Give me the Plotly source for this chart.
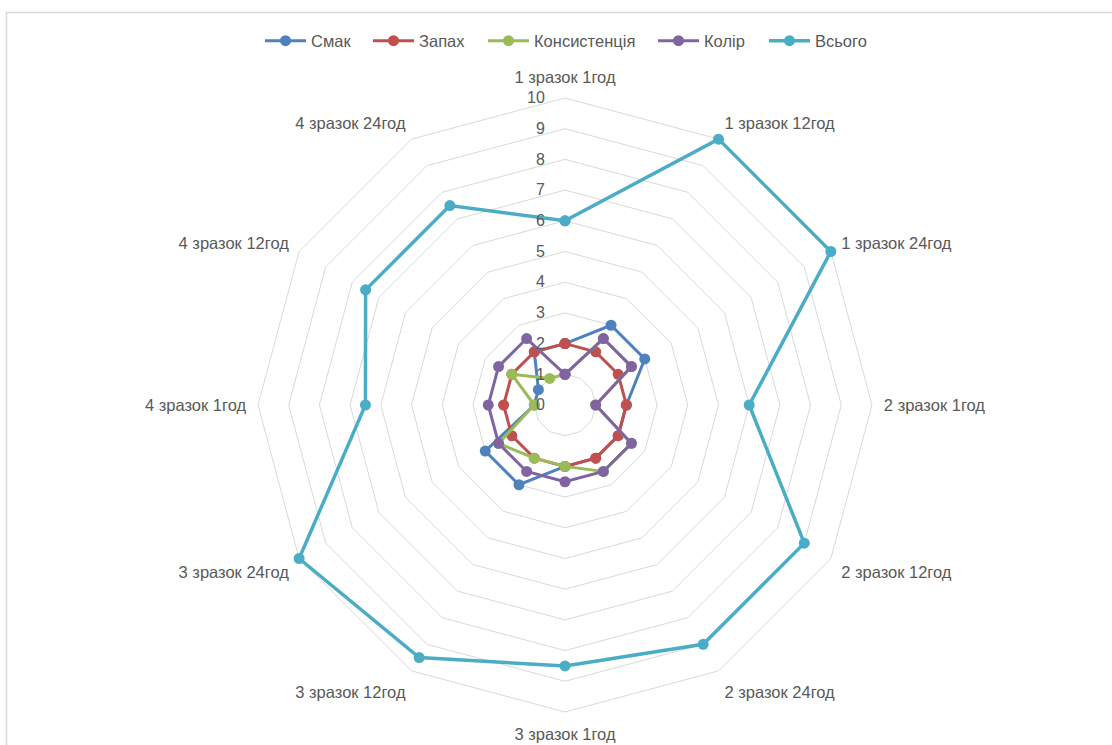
import plotly.graph_objects as go

categories = ["1 зразок 1год", "1 зразок 12год", "1 зразок 24год",
              "2 зразок 1год", "2 зразок 12год", "2 зразок 24год",
              "3 зразок 1год", "3 зразок 12год", "3 зразок 24год",
              "4 зразок 1год", "4 зразок 12год", "4 зразок 24год"]

smak = [2, 3, 3, 2, 2, 2, 2, 3, 3, 1, 1, 2]
zapakh = [2, 2, 2, 2, 2, 2, 2, 2, 2, 2, 2, 2]
konsystentsiia = [1, 2.5, 2.5, 1, 2.5, 2.5, 2, 2, 2.5, 1, 2, 1]
kolir = [1, 2.5, 2.5, 1, 2.5, 2.5, 2.5, 2.5, 2.5, 2.5, 2.5, 2.5]
vsogo = [6, 10, 10, 6, 9, 9, 8.5, 9.5, 10, 6.5, 7.5, 7.5]

series_names = ["Смак", "Запах", "Консистенція", "Колір", "Всього"]
series_values = [smak, zapakh, konsystentsiia, kolir, vsogo]
series_colors = ["#4F81BD", "#C0504D", "#9BBB59", "#8064A2", "#4BACC6"]
series_widths = [3, 3, 3, 3, 3.5]
legend_x_px = [260, 368, 483, 653, 764]   # left edge of each legend entry

FONT = "Liberation Sans, Arial, sans-serif"
GRAY = "#595959"
GRID = "#D9D9D9"
W, H = 1112, 745

fig = go.Figure()
legend_layouts = {}
for i, (name, vals, color, w) in enumerate(zip(series_names, series_values, series_colors, series_widths)):
    lg = "legend" if i == 0 else f"legend{i + 1}"
    fig.add_trace(go.Scatterpolar(
        r=vals + vals[:1],
        theta=categories + categories[:1],
        name=name,
        mode="lines+markers",
        line=dict(color=color, width=w),
        marker=dict(color=color, size=11),
        cliponaxis=False,
        legend=lg,
    ))
    legend_layouts[lg] = dict(
        orientation="h", x=legend_x_px[i] / W, xanchor="left",
        y=1 - 41 / H, yanchor="middle", bgcolor="rgba(0,0,0,0)",
        font=dict(family=FONT, size=16.5, color=GRAY), itemwidth=41,
    )

RMAX = 10.1
cx, cy, R10 = 565, 405, 307
R = R10 * RMAX / 10
fig.update_layout(
    width=W, height=H,
    margin=dict(l=0, r=0, t=0, b=0),
    paper_bgcolor="white",
    plot_bgcolor="white",
    font=dict(family=FONT, size=16.5, color=GRAY),
    showlegend=True,
    polar=dict(
        domain=dict(x=[(cx - R) / W, (cx + R) / W], y=[(H - cy - R) / H, (H - cy + R) / H]),
        bgcolor="white",
        gridshape="linear",
        radialaxis=dict(range=[0, RMAX], dtick=1, tick0=0, angle=90, tickangle=90,
                        side="counterclockwise",
                        showline=False, gridcolor=GRID, gridwidth=1,
                        ticks="outside", ticklen=14, tickcolor="rgba(0,0,0,0)",
                        tickfont=dict(family=FONT, size=16, color=GRAY)),
        angularaxis=dict(rotation=90, direction="clockwise", showgrid=False,
                         showline=False,
                         ticks="outside", ticklen=5, tickcolor="rgba(0,0,0,0)",
                         tickfont=dict(family=FONT, size=16.5, color=GRAY)),
    ),
    shapes=[dict(type="rect", xref="paper", yref="paper",
                 x0=6.5 / W, x1=1.05, y0=-0.05, y1=1 - 12.5 / H,
                 line=dict(color=GRID, width=1.5), fillcolor="rgba(0,0,0,0)")],
    **legend_layouts,
)

fig.write_html("out.html")
